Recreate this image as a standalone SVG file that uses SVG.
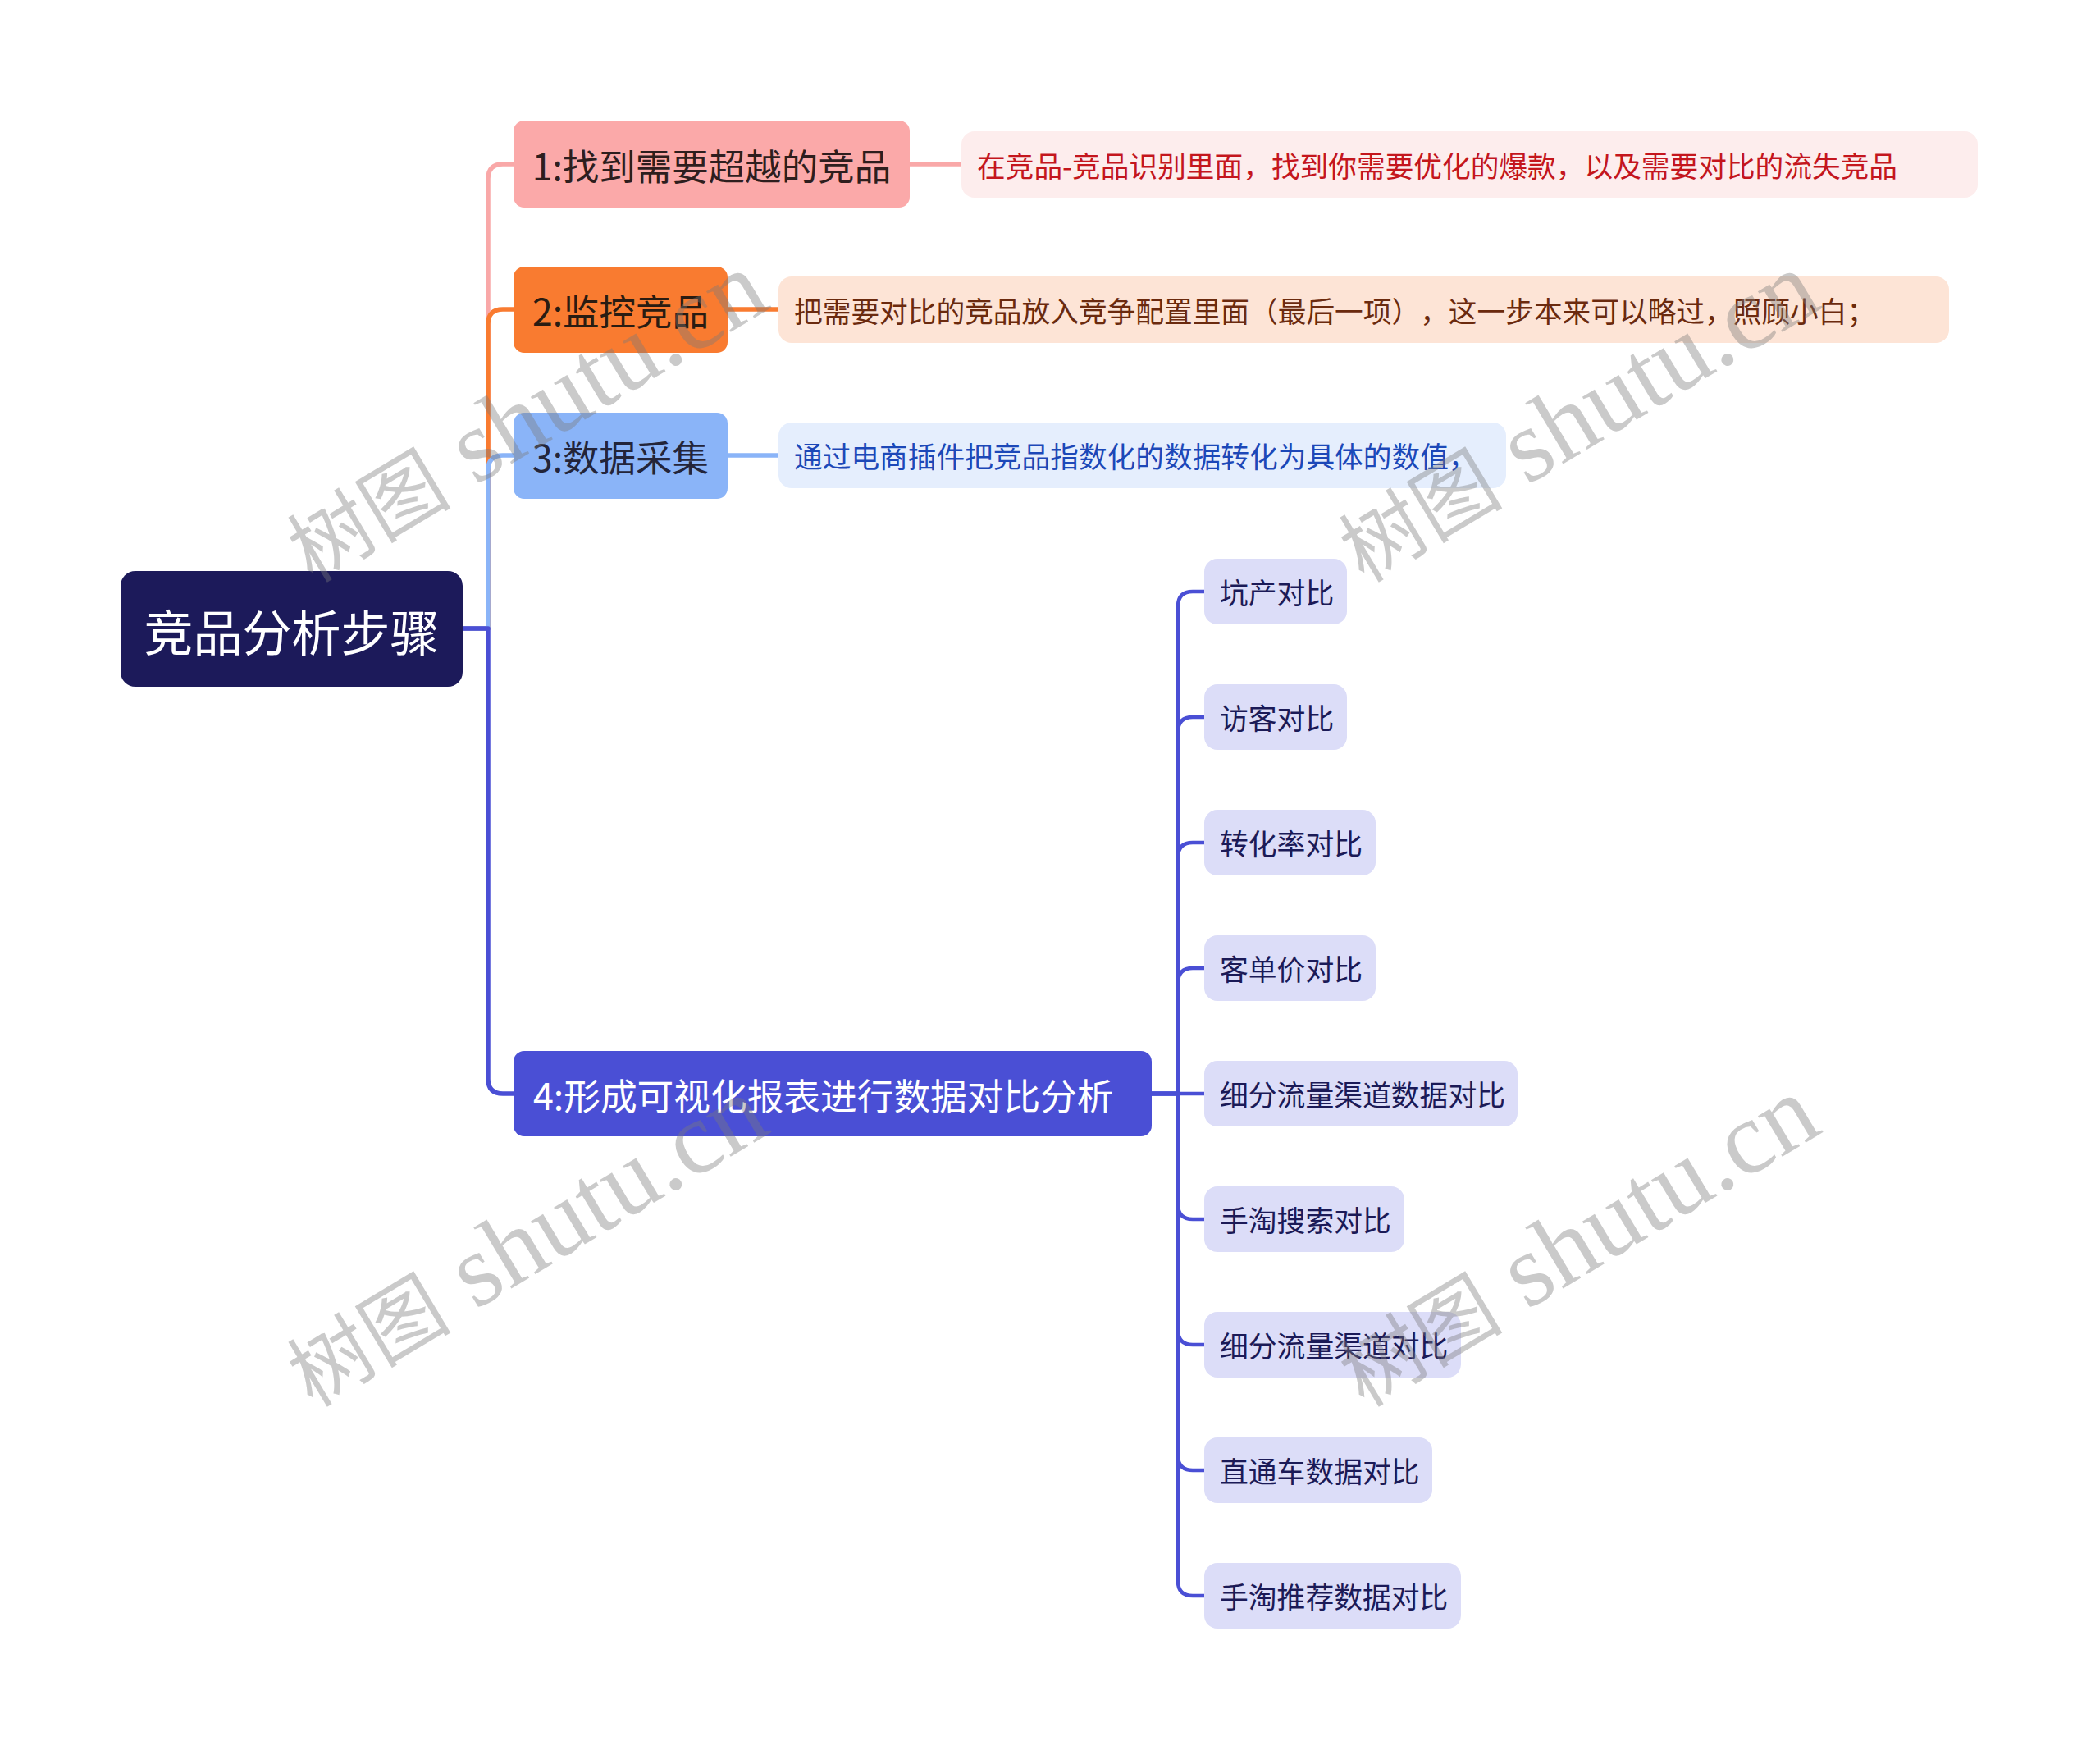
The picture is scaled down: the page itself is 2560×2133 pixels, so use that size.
<svg xmlns="http://www.w3.org/2000/svg" width="2560" height="2133" viewBox="0 0 2560 2133">
<style>
text{font-family:"Noto Sans CJK SC","Liberation Sans",sans-serif;dominant-baseline:central;text-spacing-trim:space-all}
.lk{fill:none;stroke-linecap:round;stroke-linejoin:round}
.l0{stroke-width:5.5}
.l1{stroke:#4a4fd5;stroke-width:4.5}
.leaf rect{fill:#dcddf8}
.leaf text{fill:#1b1a57;font-size:34.8px}
.desc text{font-size:34.7px}
.wm{font-family:"Liberation Serif","Noto Sans CJK SC",serif;font-size:126px;fill:#7a7a7a;fill-opacity:0.4;dominant-baseline:auto}
</style>
<rect width="2560" height="2133" fill="#ffffff"/>
<g id="connectors">
<path class="lk l0" stroke="#f9a8a8" d="M564 766 H595 V218 Q595 200 613 200 H626"/>
<path class="lk l0" stroke="#f9a8a8" d="M1109 200 H1172"/>
<path class="lk l0" stroke="#f97b30" d="M564 766 H595 V395 Q595 377 613 377 H626"/>
<path class="lk l0" stroke="#f97b30" d="M887 377 H949"/>
<path class="lk l0" stroke="#8ab4f8" d="M564 766 H595 V573 Q595 555 613 555 H626"/>
<path class="lk l0" stroke="#8ab4f8" d="M887 555 H949"/>
<path class="lk l0" stroke="#4a4fd5" d="M564 766 H595 V1315 Q595 1333 613 1333 H626"/>
<path class="lk l1" d="M1404 1333 H1436 V739 Q1436 721 1454 721 H1468"/>
<path class="lk l1" d="M1404 1333 H1436 V892 Q1436 874 1454 874 H1468"/>
<path class="lk l1" d="M1404 1333 H1436 V1045 Q1436 1027 1454 1027 H1468"/>
<path class="lk l1" d="M1404 1333 H1436 V1198 Q1436 1180 1454 1180 H1468"/>
<path class="lk l1" d="M1404 1333 H1468"/>
<path class="lk l1" d="M1404 1333 H1436 V1468 Q1436 1486 1454 1486 H1468"/>
<path class="lk l1" d="M1404 1333 H1436 V1621 Q1436 1639 1454 1639 H1468"/>
<path class="lk l1" d="M1404 1333 H1436 V1774 Q1436 1792 1454 1792 H1468"/>
<path class="lk l1" d="M1404 1333 H1436 V1927 Q1436 1945 1454 1945 H1468"/>
</g>
<g id="root">
<rect x="147" y="696" width="417" height="141" rx="18" fill="#1c1a5a"/>
<text x="355.5" y="767" text-anchor="middle" font-size="60" fill="#ffffff">竞品分析步骤</text>
</g>
<g id="n1">
<rect x="626" y="147" width="483" height="106" rx="13" fill="#fba9a9"/>
<text x="867.5" y="200" text-anchor="middle" font-size="44.5" fill="#2e1e1e">1:找到需要超越的竞品</text>
</g>
<g id="n2">
<rect x="626" y="325" width="261" height="105" rx="13" fill="#f97b30"/>
<text x="756.5" y="377.5" text-anchor="middle" font-size="44.5" fill="#2a1c12">2:监控竞品</text>
</g>
<g id="n3">
<rect x="626" y="503" width="261" height="105" rx="13" fill="#8ab4f8"/>
<text x="756.5" y="555.5" text-anchor="middle" font-size="44.5" fill="#23253a">3:数据采集</text>
</g>
<g id="n4">
<rect x="626" y="1281" width="778" height="104" rx="13" fill="#4a4fd5"/>
<text x="650" y="1333" font-size="44.7" fill="#ffffff">4:形成可视化报表进行数据对比分析</text>
</g>
<g id="d1" class="desc">
<rect x="1172" y="160" width="1239" height="81" rx="16" fill="#fdeded"/>
<text x="1191" y="200.5" fill="#c4161d">在竞品-竞品识别里面，找到你需要优化的爆款，以及需要对比的流失竞品</text>
</g>
<g id="d2" class="desc">
<rect x="949" y="337" width="1427" height="81" rx="16" fill="#fde4d6"/>
<text x="968" y="377.5" fill="#6b2a0e">把需要对比的竞品放入竞争配置里面（最后一项），这一步本来可以略过，照顾小白；</text>
</g>
<g id="d3" class="desc">
<rect x="949" y="515" width="887" height="80" rx="16" fill="#e5eefd"/>
<text x="968" y="555" fill="#1c48b8">通过电商插件把竞品指数化的数据转化为具体的数值，</text>
</g>
<g id="leaf1" class="leaf"><rect x="1468" y="681" width="174" height="80" rx="16"/><text x="1487" y="721">坑产对比</text></g>
<g id="leaf2" class="leaf"><rect x="1468" y="834" width="174" height="80" rx="16"/><text x="1487" y="874">访客对比</text></g>
<g id="leaf3" class="leaf"><rect x="1468" y="987" width="209" height="80" rx="16"/><text x="1487" y="1027">转化率对比</text></g>
<g id="leaf4" class="leaf"><rect x="1468" y="1140" width="209" height="80" rx="16"/><text x="1487" y="1180">客单价对比</text></g>
<g id="leaf5" class="leaf"><rect x="1468" y="1293" width="382" height="80" rx="16"/><text x="1487" y="1333">细分流量渠道数据对比</text></g>
<g id="leaf6" class="leaf"><rect x="1468" y="1446" width="244" height="80" rx="16"/><text x="1487" y="1486">手淘搜索对比</text></g>
<g id="leaf7" class="leaf"><rect x="1468" y="1599" width="313" height="80" rx="16"/><text x="1487" y="1639">细分流量渠道对比</text></g>
<g id="leaf8" class="leaf"><rect x="1468" y="1752" width="278" height="80" rx="16"/><text x="1487" y="1792">直通车数据对比</text></g>
<g id="leaf9" class="leaf"><rect x="1468" y="1905" width="313" height="80" rx="16"/><text x="1487" y="1945">手淘推荐数据对比</text></g>
<g id="watermarks">
<text class="wm" transform="translate(642,510) rotate(-31)" x="0" y="38" text-anchor="middle"><tspan font-size="100">树图</tspan> shutu.cn</text>
<text class="wm" transform="translate(1924,510) rotate(-31)" x="0" y="38" text-anchor="middle"><tspan font-size="100">树图</tspan> shutu.cn</text>
<text class="wm" transform="translate(642,1515) rotate(-31)" x="0" y="38" text-anchor="middle"><tspan font-size="100">树图</tspan> shutu.cn</text>
<text class="wm" transform="translate(1924,1515) rotate(-31)" x="0" y="38" text-anchor="middle"><tspan font-size="100">树图</tspan> shutu.cn</text>
</g>
</svg>
